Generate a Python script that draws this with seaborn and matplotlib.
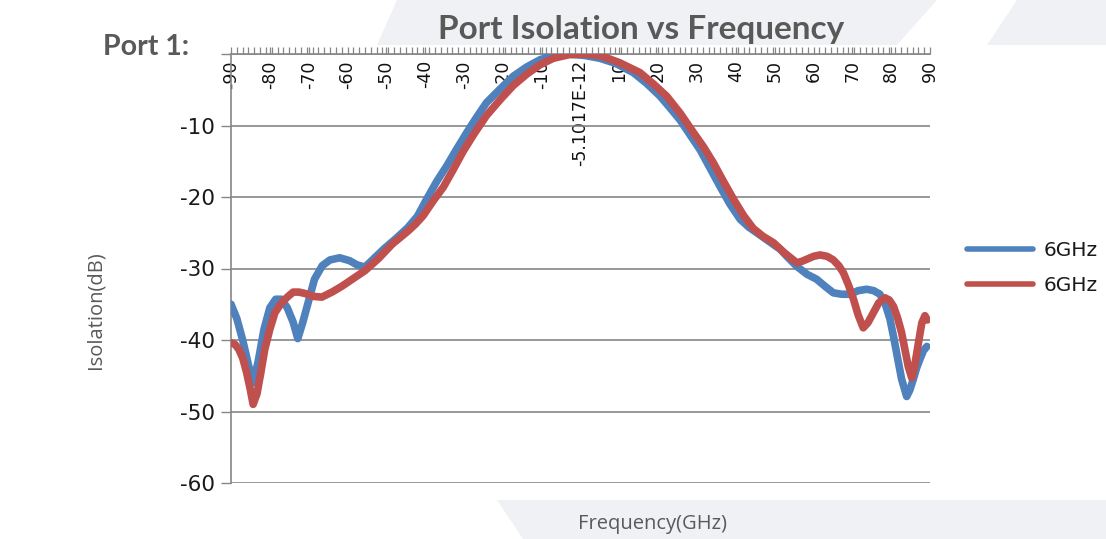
import matplotlib
matplotlib.use("Agg")
import matplotlib.pyplot as plt
import seaborn as sns
from matplotlib.ticker import MultipleLocator
from matplotlib.patches import Polygon

# ---------------- data ----------------
blue_x = [-90, -88.5, -87, -85.5, -84.3, -83, -81.5, -80, -78.5, -77, -75.5, -74, -72.8,
          -71.5, -70, -68.5, -66.5, -64.5, -62, -59.5, -57.5, -55.5, -53, -50.5, -47.5,
          -44.5, -42, -39.6, -37, -34.5, -32, -29.3, -26.7, -24.2, -20.7, -17.3, -13.8,
          -10.4, -7, -3, 1, 5, 9, 13.6, 17, 20.5, 23, 25.6, 28.2, 30.8, 33.4, 35.9, 38.5,
          41.1, 43.3, 45.4, 48, 51.4, 53.5, 55.7, 58.3, 60.8, 63, 65.1, 67.3, 69.4, 71.5,
          73.7, 75.5, 77.1, 78.5, 79.7, 80.6, 81.4, 82.7, 84, 84.8, 85.7, 86.5, 87.4,
          88.3, 89.2]
blue_y = [-35.0, -37.0, -40.0, -43.5, -46.0, -43.0, -38.5, -35.5, -34.3, -34.3, -35.5,
          -37.5, -39.8, -37.5, -34.5, -31.5, -29.6, -28.8, -28.5, -28.9, -29.5, -29.8,
          -28.5, -27.2, -25.8, -24.3, -22.7, -20.3, -17.8, -15.7, -13.4, -11.0, -8.8,
          -6.8, -4.9, -3.1, -1.8, -0.8, -0.2, 0.0, -0.2, -0.6, -1.3, -2.6, -4.1, -5.9,
          -7.5, -9.2, -11.3, -13.4, -16.0, -18.5, -21.0, -23.1, -24.2, -25.0, -26.0,
          -27.3, -28.5, -29.7, -30.8, -31.5, -32.5, -33.4, -33.6, -33.6, -33.1, -32.9,
          -33.1, -33.6, -35.0, -37.1, -39.5, -41.8, -45.5, -47.9, -47.0, -45.5, -44.0,
          -42.7, -41.5, -40.9]

red_x = [-90, -89, -88, -87, -86, -85, -84.3, -83.3, -82.3, -81.3, -80, -78.7, -77,
         -75.5, -74, -72.5, -70.9, -68.8, -66.6, -64, -61.5, -58.5, -55.5, -52, -48.5,
         -44.5, -42.5, -40.5, -38, -35.3, -32.8, -30.2, -27.2, -24.2, -20.7, -17.3,
         -13.8, -10.4, -7, -3, 1.5, 5.5, 10, 15.3, 18.8, 22.2, 25.7, 29.1, 31.7, 34.2,
         36.8, 39.4, 42, 44.5, 47, 49.7, 52.5, 55.7, 57, 58.3, 60, 61.7, 63.5, 65.1,
         66.5, 67.7, 69, 70.3, 71.5, 72.8, 74, 75.4, 76.8, 78.4, 79.5, 80.6, 81.7, 82.7,
         83.6, 84.4, 85.3, 86, 86.6, 87.3, 87.9, 88.7, 89.3]
red_y = [-40.4, -40.6, -41.3, -42.5, -44.5, -47.0, -49.0, -47.5, -44.5, -41.3, -38.5,
         -36.2, -34.8, -34.0, -33.3, -33.3, -33.5, -33.9, -34.0, -33.3, -32.5, -31.4,
         -30.3, -28.6, -26.6, -24.8, -23.8, -22.6, -20.6, -18.6, -16.2, -13.6, -11.0,
         -8.6, -6.4, -4.4, -2.8, -1.5, -0.6, -0.1, 0.0, -0.3, -1.2, -2.6, -4.2, -5.9,
         -8.3, -11.0, -13.0, -15.2, -17.8, -20.3, -22.6, -24.4, -25.5, -26.4, -27.8,
         -29.2, -29.0, -28.7, -28.3, -28.1, -28.3, -28.8, -29.6, -30.6, -32.3, -34.3,
         -36.5, -38.3, -37.6, -36.2, -34.8, -34.1, -34.4, -35.3, -37.0, -39.0, -41.5,
         -43.7, -45.3, -43.8, -41.8, -39.5, -37.6, -36.6, -37.2]

series_labels = ["6GHz", "6GHz"]
x_tick_values = [-90, -80, -70, -60, -50, -40, -30, -20, -10, 0, 10, 20, 30, 40, 50, 60, 70, 80, 90]
x_tick_labels = ["-90", "-80", "-70", "-60", "-50", "-40", "-30", "-20", "-10", "-5.1017E-12",
                 "10", "20", "30", "40", "50", "60", "70", "80", "90"]
y_tick_values = [-60, -50, -40, -30, -20, -10, 0]
y_tick_labels = ["-60", "-50", "-40", "-30", "-20", "-10", ""]

# ---------------- figure ----------------
sns.set_theme(style="white")
plt.rcParams["font.family"] = ["DejaVu Sans"]

W, H = 1106, 539
fig = plt.figure(figsize=(W / 100, H / 100), dpi=100)
fig.patch.set_facecolor("white")

def fp(pts):
    return [(x / W, 1 - y / H) for x, y in pts]

wm = "#f0f1f4"
for pts in ([(397, 0), (937, 0), (897, 45), (377, 45)],
            [(1017, 0), (1106, 0), (1106, 45), (987, 45)],
            [(497, 500), (1106, 500), (1106, 539), (523, 539)]):
    fig.patches.append(Polygon(fp(pts), closed=True, transform=fig.transFigure,
                               facecolor=wm, edgecolor="none", zorder=-5))

ax = fig.add_axes([231 / W, 1 - 483 / H, 699 / W, 429 / H])
ax.set_facecolor("white")

grey = "#868686"
sns.lineplot(x=blue_x, y=blue_y, ax=ax, color="#4F81BD", lw=5.5, label=series_labels[0],
             sort=False, estimator=None, zorder=3)
sns.lineplot(x=red_x, y=red_y, ax=ax, color="#C0504D", lw=5.5, label=series_labels[1],
             sort=False, estimator=None, zorder=4)

ax.set_xlim(-90, 90)
ax.set_ylim(-60, 0)

# y axis
ax.set_yticks(y_tick_values)
ax.set_yticklabels(y_tick_labels)
ax.tick_params(axis="y", which="major", left=True, direction="out", length=7.5, width=1,
               color=grey, labelsize=15.5, labelcolor="#1a1a1a", pad=4)
ax.yaxis.grid(True, color=grey, lw=1.2)
ax.xaxis.grid(False)

# x axis along the top (y = 0)
ax.set_xticks(x_tick_values)
ax.set_xticklabels(x_tick_labels)
ax.xaxis.set_minor_locator(MultipleLocator(1.5))
ax.tick_params(axis="x", which="both", top=True, bottom=False, labeltop=True,
               labelbottom=False, direction="out", length=5, width=0.9, color=grey)
ax.tick_params(axis="x", which="major", labelsize=12.5, labelcolor="#111111",
               labelrotation=90, pad=-9.5)
for t in ax.xaxis.get_major_ticks():
    t.label2.set_va("top")

for s in ("right", "bottom"):
    ax.spines[s].set_visible(False)
for s in ("left", "top"):
    ax.spines[s].set_color(grey)
    ax.spines[s].set_linewidth(1.2)

# axis titles
ax.set_ylabel("Isolation(dB)", family="Open Sans", fontsize=14.5, color="#595959")
ax.yaxis.set_label_coords((95 - 231) / 699, (483 - 310) / 429)
ax.yaxis.label.set_va("center")
ax.set_xlabel("Frequency(GHz)", family="Open Sans", fontsize=14.5, color="#595959")
ax.xaxis.set_label_position("bottom")
ax.xaxis.set_label_coords((652 - 231) / 699, (483 - 524) / 429)
ax.xaxis.label.set_va("center")

# legend
leg = ax.legend(loc="center left", bbox_to_anchor=(967 / W, 1 - 268 / H),
                bbox_transform=fig.transFigure, frameon=False, fontsize=14.5,
                handlelength=3.3, handletextpad=0.5, labelspacing=0.75,
                borderpad=0, borderaxespad=0)
for ln in leg.get_lines():
    ln.set_linewidth(4)
for tx in leg.get_texts():
    tx.set_color("#1a1a1a")

# titles
fig.text(641 / W, 1 - 30 / H, "Port Isolation vs Frequency", ha="center", va="center",
         family="Lato", fontweight="bold", fontsize=24, color="#595959")
fig.text(103 / W, 1 - 47 / H, "Port 1:", ha="left", va="center",
         family="Lato", fontweight="bold", fontsize=20.5, color="#595959")

fig.savefig("out.png", dpi=100)
